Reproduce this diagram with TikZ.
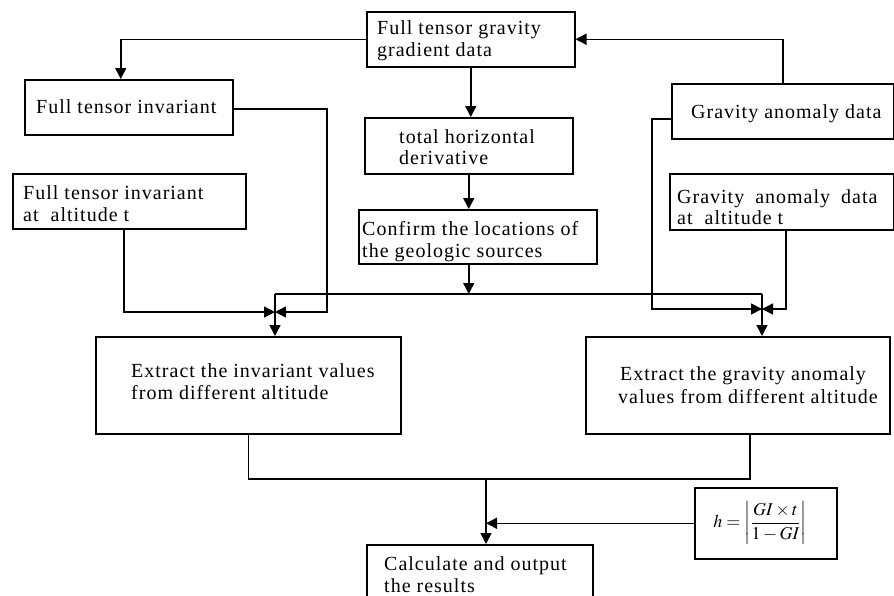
\documentclass[tikz,border=0pt]{standalone}
\usepackage{amsmath}
\usepackage{mathptmx}
\usepackage{fontspec}
\setmainfont{Liberation Serif}[LetterSpace=5]
\usetikzlibrary{arrows.meta,calc}
\begin{document}
\begin{tikzpicture}[x=1pt,y=-1pt,
  box/.style={draw,line width=1.5pt,inner sep=0pt,anchor=north west},
  lbl/.style={anchor=base west,inner sep=0pt,font=\fontsize{20}{22}\selectfont},
  ln/.style={line width=1.5pt},
  arr/.style={line width=1.5pt,-{Triangle[length=11pt,width=11pt]}}]
\clip (0,0) rectangle (894,595);
\fill[white] (0,0) rectangle (894,595);

% boxes
\node[box,minimum width=208pt,minimum height=55pt] (ftgg) at (366,11) {};
\node[box,minimum width=208pt,minimum height=55pt] (fti) at (24,79) {};
\node[box,minimum width=233pt,minimum height=55pt] (ftit) at (12,173) {};
\node[box,minimum width=208pt,minimum height=56pt] (thd) at (364,117) {};
\node[box,minimum width=238pt,minimum height=54pt] (conf) at (358,209) {};
\node[box,minimum width=222pt,minimum height=55pt] (gad) at (671,83) {};
\node[box,minimum width=224pt,minimum height=56pt] (gadt) at (669,173) {};
\node[box,minimum width=305pt,minimum height=97pt] (exi) at (95,336) {};
\node[box,minimum width=304pt,minimum height=97pt] (exg) at (585,336) {};
\node[box,minimum width=226pt,minimum height=70pt] (calc) at (366,544) {};
\node[box,minimum width=142pt,minimum height=71pt] (formula) at (694,487) {};

% texts
\node[lbl] (t1a) at (377,34) {Full tensor gravity};
\node[lbl] (t1b) at (377,56) {gradient data};
\node[lbl] (t2) at (36,113) {Full tensor invariant};
\node[lbl] (t3a) at (23,199) {Full tensor invariant};
\node[lbl] (t3b) at (23,221) {at\hspace{6pt} altitude t};
\node[lbl] (t4a) at (399,143) {total horizontal};
\node[lbl] (t4b) at (399,164) {derivative};
\node[lbl] (t5a) at (362,235) {Confirm the locations of};
\node[lbl] (t5b) at (362,257) {the geologic sources};
\node[lbl] (t6) at (691,118) {Gravity anomaly data};
\node[lbl] (t7a) at (677,203) {Gravity\hspace{5pt} anomaly\hspace{5pt} data};
\node[lbl] (t7b) at (677,224) {at\hspace{6pt} altitude t};
\node[lbl] (t8a) at (131,377) {Extract the invariant values};
\node[lbl] (t8b) at (131,399) {from different altitude};
\node[lbl] (t9a) at (620,380) {Extract the gravity anomaly};
\node[lbl] (t9b) at (618,403) {values from different altitude};
\node[lbl] (t10a) at (384,570) {Calculate and output};
\node[lbl] (t10b) at (384,592) {the results};
\node[anchor=center,inner sep=0pt,font=\fontsize{18}{21}\selectfont] (tf) at (760,523)
  {$h=\left|\dfrac{GI\times t}{1-GI}\right|$};

% junction coordinates
\coordinate (topL) at (275,294);
\coordinate (topR) at (762,294);
\coordinate (jL) at (275,312);
\coordinate (jR) at (762,309);
\coordinate (bendA) at (327,312);
\coordinate (bendG) at (652,309);
\coordinate (jB) at (486,479);

% connectors
\draw[arr] (ftgg.west) -| ([xshift=-8pt]fti.north);
\draw[arr] (ftgg.south) -- (ftgg.south |- thd.north);
\draw[arr] (thd.south) -- (thd.south |- conf.north);
\draw[arr] (thd.south |- conf.south) -- (thd.south |- topL);
\draw[ln] (topL) -- (topR);
\draw[arr] (topL) -- (topL |- exi.north);
\draw[arr] (topR) -- (topR |- exg.north);
\draw[arr] ([yshift=-1.5pt]fti.east) -| (bendA) -- (jL);
\draw[arr] ([xshift=-5.5pt]ftit.south) |- (jL);
\draw[arr] ([yshift=-7.5pt]gad.west) -| (bendG) -- (jR);
\draw[arr] ([xshift=4pt]gadt.south) |- (jR);
\draw[arr] (gad.north) |- (ftgg.east);
\draw[ln] (exi.south) |- (jB) -| ([xshift=12pt]exg.south);
\draw[arr] (jB) -- (jB |- calc.north);
\draw[arr] (formula.west) -- (jB |- formula.west);
\end{tikzpicture}
\end{document}
